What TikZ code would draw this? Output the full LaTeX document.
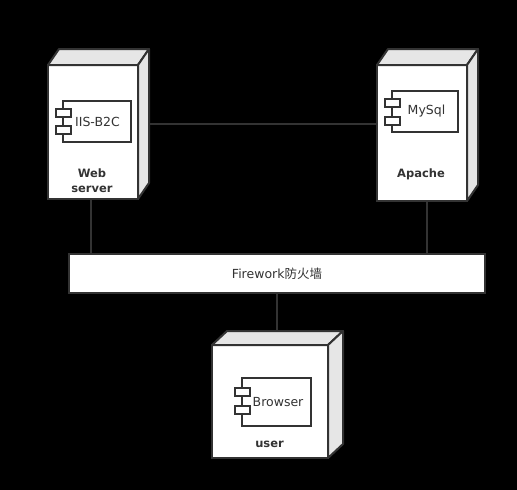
\documentclass[tikz,border=0pt]{standalone}
\usepackage{fontspec}
\setmainfont{DejaVu Sans}
\newfontfamily\cjk{Noto Sans CJK SC}
\usepackage{xcolor}
\usetikzlibrary{positioning, calc}
\definecolor{inkgray}{HTML}{333333}
\definecolor{facegray}{HTML}{E6E6E6}

\begin{document}
\begin{tikzpicture}[
  x=1pt, y=-1pt,
  box/.style={
    rectangle,
    draw=inkgray,
    fill=white,
    line width=2pt,
    outer sep=0pt,
    inner sep=0pt
  },
  face/.style={draw=inkgray, fill=facegray, line width=2pt, line join=round},
  comp/.style={
    box,
    anchor=north west,
    font=\fontsize{12.5}{14}\selectfont,
    text=inkgray
  },
  tab/.style={box, minimum width=15pt, minimum height=8pt},
  title/.style={
    align=center,
    inner sep=0pt,
    text=inkgray,
    font=\fontsize{11.5}{15}\selectfont\bfseries
  },
  link/.style={draw=inkgray, line width=2pt}
]

  \useasboundingbox (0,0) rectangle (517,490);
  \fill[black] (0,0) rectangle (517,490);

  % Nodes
  \node (web) [box, minimum width=90pt, minimum height=134pt] at (93,132) {};
  \node (apache) [box, minimum width=90pt, minimum height=136pt,
    right=239pt of web.north east, anchor=north west] {};
  \node (firewall) [box, minimum width=416pt, minimum height=39pt,
    below=55pt of web.south west, anchor=north west, xshift=21pt,
    font=\fontsize{12.5}{14}\selectfont, text=inkgray] {Firework{\cjk 防火墙}};
  \node (user) [box, minimum width=116pt, minimum height=113pt,
    below=52pt of firewall.south, anchor=north, xshift=-7pt] {};

  % Cube faces
  \foreach \n/\dx/\dy in {web/11/16, apache/11/16, user/15/14} {
    \draw [face] (\n.north west) -- ++(\dx,-\dy) -- ($(\n.north east)+(\dx,-\dy)$)
      -- (\n.north east) -- cycle;
    \draw [face] (\n.north east) -- ++(\dx,-\dy) -- ($(\n.south east)+(\dx,-\dy)$)
      -- (\n.south east) -- cycle;
  }

  \node (iis) [comp, minimum width=68pt, minimum height=41pt,
    below right=36pt and 15pt of web.north west] {\hspace*{1pt}\raisebox{-1pt}{IIS-B2C}};
  \node (iistaba) [tab, below=8pt of iis.north west, anchor=north] {};
  \node (iistabb) [tab, below=9pt of iistaba] {};
  \node (webname) [title, below=27pt of iis.south, xshift=-5pt, anchor=north] {Web\\server};

  \node (mysql) [comp, minimum width=66pt, minimum height=41pt,
    below right=26pt and 15pt of apache.north west] {\hspace*{3pt}\raisebox{-2pt}{MySql}};
  \node (mysqltaba) [tab, below=8pt of mysql.north west, anchor=north] {};
  \node (mysqltabb) [tab, below=10pt of mysqltaba] {};
  \node (apachename) [title, below=37pt of mysql.south, xshift=-4pt, anchor=north] {Apache};

  \node (browser) [comp, minimum width=69pt, minimum height=48pt,
    below right=33pt and 30pt of user.north west] {\hspace*{3pt}\raisebox{-2pt}{Browser}};
  \node (browsertaba) [tab, below=10pt of browser.north west, anchor=north] {};
  \node (browsertabb) [tab, below=10pt of browsertaba] {};
  \node (username) [title, below=15pt of browser.south, xshift=-7pt, anchor=north] {user};

  % Links
  \coordinate (webside) at ($(web.east)+(11,-8)$);
  \coordinate (usertop) at ($(user.north)+(7,-14)$);
  \draw [link] (webside) -- (webside -| apache.west);
  \draw [link] ([xshift=-2pt]web.south) -- ([xshift=-2pt]web.south |- firewall.north);
  \draw [link] ([xshift=5pt]apache.south) -- ([xshift=5pt]apache.south |- firewall.north);
  \draw [link] (firewall.south) -- (firewall.south |- usertop);

\end{tikzpicture}
\end{document}
